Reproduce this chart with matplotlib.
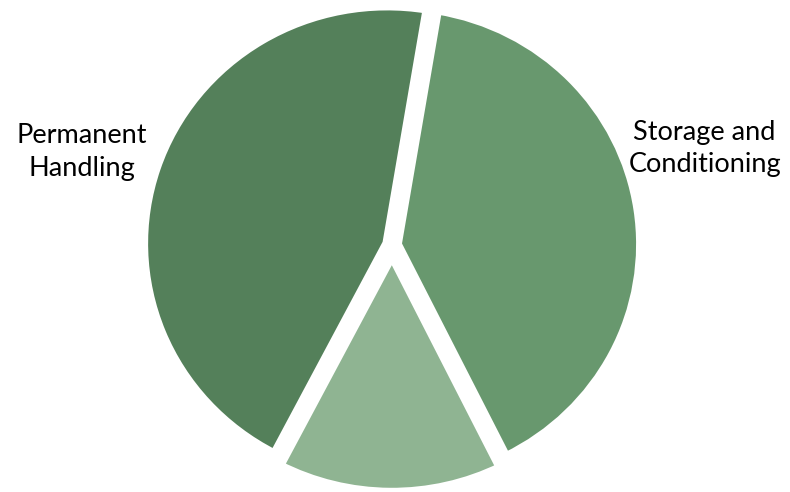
import matplotlib.pyplot as plt

# slices, clockwise from the top
names = ["Storage and\nConditioning", "", "Permanent\nHandling"]
values = [40, 15, 45]
colors = ["#68986E", "#8FB492", "#54805A"]
explode = [5, 10, 5]     # pie offsets, in data units

W, H = 790, 492
squash = 0.975          # the original is a little flatter than round

fig = plt.figure(figsize=(W / 100, H / 100), dpi=100)
ax = fig.add_axes([0, 0, 1, 1])


def py(y):
    # pixel row from the top -> data y
    return (H - y) / squash


ax.pie(values, colors=colors, startangle=80.5, counterclock=False,
       explode=explode, center=(392, py(245)), radius=244,
       wedgeprops=dict(edgecolor="white", linewidth=7, joinstyle="round"))

ax.set_xlim(0, W)
ax.set_ylim(0, H / squash)
ax.set_aspect("auto")
ax.axis("off")

# labels sit outside the pie on either side, one text per line
font = dict(ha="center", va="baseline", fontsize=19.5, family="Lato", color="black")
left = names[2].split("\n")
right = names[0].split("\n")
ax.text(82, py(143), left[0], **font)
ax.text(82, py(176), left[1], **font)
ax.text(704, py(140), right[0], **font)
ax.text(705, py(172), right[1], **font)

fig.savefig("out.png", dpi=100)
